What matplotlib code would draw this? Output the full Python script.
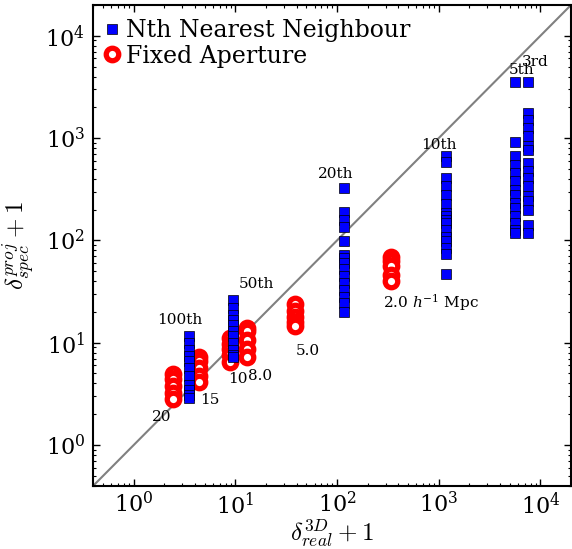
import numpy as np
import matplotlib
matplotlib.use('Agg')
import matplotlib.pyplot as plt

plt.rcParams['font.family'] = 'DejaVu Serif'
plt.rcParams['mathtext.fontset'] = 'dejavuserif'

# Nth nearest neighbour estimates (x = real 3D overdensity, y = projected)
nn_labels = ['100th', '50th', '20th', '10th', '5th', '3rd']
nn_x = [3.5, 9.5, 117, 1190, 5640, 7570]
nn_y = [
    [11.65, 9.96, 8.57, 7.36, 6.58, 5.67, 4.70, 3.90, 3.48, 3.11, 2.86],
    [26.2, 21.9, 18.8, 16.8, 15.0, 12.9, 11.6, 9.96, 8.57, 7.65, 7.31],
    [325, 188, 159, 135, 99, 72, 67, 60, 52, 45, 38, 33, 28, 24.5, 20],
    [671, 578, 407, 337, 279, 228, 185, 172, 159, 148, 127, 109, 98, 84, 74, 47],
    [3570, 906, 661, 549, 455, 377, 313, 275, 232, 207, 172, 148, 127, 118],
    [3570, 1750, 1510, 1250, 1037, 828, 769, 570, 472, 407, 337, 269, 240, 200, 142, 118],
]

# fixed aperture estimates
fa_labels = ['20', '15', '10', '8.0', '5.0', '2.0 $h^{-1}$ Mpc']
fa_x = [2.41, 4.41, 8.83, 12.9, 38.5, 336]
fa_y = [
    [4.95, 4.4, 3.75, 3.2, 2.8],
    [7.3, 6.6, 5.7, 4.7, 4.1],
    [11.2, 9.8, 8.6, 7.5, 6.5],
    [13.8, 12.9, 10.7, 8.6, 7.3],
    [23.7, 20.5, 18.0, 16.0, 14.4],
    [69, 62.6, 55.7, 46, 40],
]

# label offsets in points (from top / bottom of each column)
nn_offsets = [(-6.7, 11.5), (17, 11.3), (-6.1, 9.9), (-5.2, 7.7), (4.5, 8.2), (5.2, 14.2)]
fa_offsets = [(-7.7, -13), (7.5, -12.5), (5.4, -12.2), (9.6, -13.7), (9, -17.5), (29.4, -15.5)]

lims = (0.4, 2e4)

fig = plt.figure(figsize=(5.72, 5.49), dpi=100)
ax = fig.add_axes([93.3/572, (549-485.7)/549, (571-93.3)/572, (485.7-5)/549])

ax.plot(lims, lims, color='gray', lw=1.5, zorder=1)

for x, ys in zip(fa_x, fa_y):
    ax.plot([x]*len(ys), ys, 'o', ms=9, mfc='white', mec='red', mew=3.8,
            ls='none', zorder=2)
for x, ys in zip(nn_x, nn_y):
    ax.plot([x]*len(ys), ys, 's', ms=6.5, mfc='blue', mec='black', mew=0.5,
            ls='none', zorder=3)

for lab, x, ys, off in zip(nn_labels, nn_x, nn_y, nn_offsets):
    ax.annotate(lab, (x, max(ys)), xytext=off, textcoords='offset points',
                ha='center', va='center', fontsize=11, zorder=4)
for lab, x, ys, off in zip(fa_labels, fa_x, fa_y, fa_offsets):
    ax.annotate(lab, (x, min(ys)), xytext=off, textcoords='offset points',
                ha='center', va='center', fontsize=11, zorder=4)

ax.set_xscale('log')
ax.set_yscale('log')
ax.set_xlim(lims)
ax.set_ylim(lims)

ax.tick_params(which='both', direction='in', top=True, right=True, labelsize=16)
ax.tick_params(which='major', length=5, width=1)
ax.tick_params(which='minor', length=2.5, width=0.8)
ax.tick_params(axis='x', pad=4.5)
ax.tick_params(axis='y', pad=6)
for s in ax.spines.values():
    s.set_linewidth(1.5)

ax.set_xlabel(r'$\delta^{3D}_{real}+1$', fontsize=18, math_fontfamily='cm', labelpad=0)
ax.set_ylabel(r'$\delta^{proj}_{spec}+1$', fontsize=18, math_fontfamily='cm', labelpad=6)

h_nn, = ax.plot([], [], 's', ms=6.5, mfc='blue', mec='black', mew=0.5, ls='none')
h_fa, = ax.plot([], [], 'o', ms=9, mfc='white', mec='red', mew=3.8, ls='none')
ax.legend([h_nn, h_fa], ['Nth Nearest Neighbour', 'Fixed Aperture'], loc='upper left',
          bbox_to_anchor=(0.004, 0.99),
          frameon=False, numpoints=1, fontsize=17, handlelength=0.6,
          handletextpad=0.3, borderaxespad=0.2, borderpad=0.2, labelspacing=0.1)

fig.savefig('out.png', dpi=100)
